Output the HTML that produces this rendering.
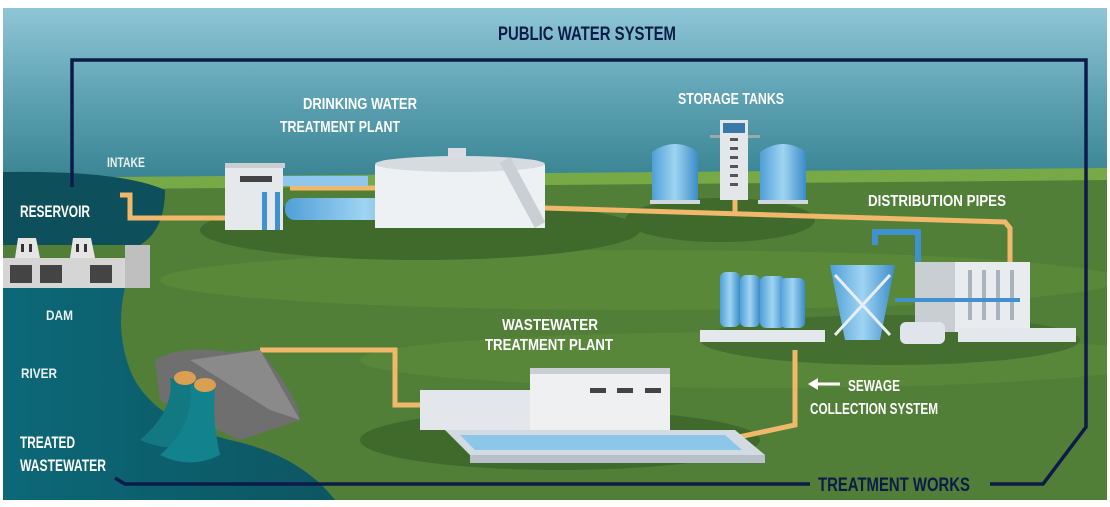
<!DOCTYPE html>
<html><head><meta charset="utf-8"><style>
html,body{margin:0;padding:0;background:#fff;width:1110px;height:507px;overflow:hidden}
svg{display:block}
text{font-family:"Liberation Sans",sans-serif;font-weight:bold}
</style></head><body>
<svg width="1110" height="507" viewBox="0 0 1110 507" xmlns="http://www.w3.org/2000/svg">
<defs>
<linearGradient id="sky" x1="0" y1="0" x2="0" y2="1">
<stop offset="0" stop-color="#8fc6d6"/><stop offset="0.5" stop-color="#5fa3b4"/><stop offset="1" stop-color="#3a8593"/></linearGradient>
<linearGradient id="water" x1="0" y1="0" x2="1" y2="0">
<stop offset="0" stop-color="#0c6877"/><stop offset="1" stop-color="#0d5662"/></linearGradient>
<linearGradient id="tank" x1="0" y1="0" x2="1" y2="0">
<stop offset="0" stop-color="#4f9fd8"/><stop offset="0.5" stop-color="#9fd4f2"/><stop offset="1" stop-color="#3c8cc8"/></linearGradient>
<clipPath id="c"><rect x="3" y="8" width="1104" height="492"/></clipPath>
</defs>
<g clip-path="url(#c)">
<rect x="3" y="8" width="1104" height="492" fill="#4e7d36"/>
<rect x="3" y="8" width="1104" height="170" fill="url(#sky)"/>
<path d="M3 178 L1107 168 L1107 190 L3 196Z" fill="#78a947"/>
<path d="M3 190 L1107 180 L1107 500 L3 500Z" fill="#527f38"/>
<ellipse cx="640" cy="280" rx="480" ry="30" fill="#598839"/>
<ellipse cx="760" cy="360" rx="400" ry="28" fill="#58873a"/>
<ellipse cx="420" cy="230" rx="220" ry="30" fill="#3f6a2c"/>
<ellipse cx="720" cy="220" rx="95" ry="22" fill="#3f6a2c"/>
<ellipse cx="560" cy="440" rx="200" ry="30" fill="#3f6a2c"/>
<ellipse cx="890" cy="340" rx="190" ry="25" fill="#446f30"/>
<!-- reservoir -->
<path d="M3 172 Q120 170 165 190 Q165 230 140 245 L3 245Z" fill="#0d4f5a"/>
<!-- river -->
<path d="M3 288 L125 288 Q115 330 130 370 Q150 420 230 440 Q300 455 335 500 L3 500Z" fill="url(#water)"/>
<!-- dam -->
<rect x="3" y="258" width="145" height="30" fill="#d5d5d5"/>
<rect x="125" y="245" width="25" height="43" fill="#bfbfbf"/>
<rect x="10" y="265" width="22" height="18" fill="#444"/><rect x="40" y="265" width="22" height="18" fill="#444"/><rect x="90" y="265" width="22" height="18" fill="#444"/>
<path d="M15 258 L18 238 L36 238 L40 258Z" fill="#e5e5e5"/><path d="M70 258 L73 238 L91 238 L95 258Z" fill="#e5e5e5"/>
<rect x="21" y="244" width="3" height="8" fill="#333"/><rect x="29" y="244" width="3" height="8" fill="#333"/>
<rect x="76" y="244" width="3" height="8" fill="#333"/><rect x="84" y="244" width="3" height="8" fill="#333"/>
<!-- pipes -->
<g fill="none" stroke="#f0b86a" stroke-width="5">
<path d="M120 195 L130 195 L130 218 L230 218"/>
<path d="M545 208 L1005 222 L1010 228 L1010 262"/>
<path d="M735 200 L735 212"/>
<path d="M260 350 L395 350 L395 405 L420 405"/>
<path d="M795 350 L795 425 L725 440"/>
<path d="M290 188 L385 188 L385 170 L390 165"/>
</g>
<!-- drinking plant -->
<rect x="225" y="165" width="58" height="65" fill="#e6e9ec"/><rect x="225" y="163" width="60" height="5" fill="#c9ced3"/>
<rect x="240" y="176" width="32" height="6" fill="#444"/>
<rect x="283" y="176" width="85" height="10" fill="#8fc8ec"/>
<rect x="285" y="198" width="160" height="22" rx="10" fill="url(#tank)"/>
<rect x="262" y="192" width="5" height="38" fill="#3f92cf"/><rect x="275" y="192" width="5" height="38" fill="#3f92cf"/>
<path d="M375 165 Q460 150 545 165 L545 228 L375 228Z" fill="#eef1f4"/>
<ellipse cx="460" cy="164" rx="85" ry="8" fill="#d6dbe0"/>
<path d="M505 160 L540 225" stroke="#c9cfd5" stroke-width="12"/>
<rect x="448" y="148" width="18" height="10" fill="#d9dde1"/>
<!-- storage tanks -->
<path d="M652 152 Q675 136 698 152 L698 202 L652 202Z" fill="url(#tank)"/>
<path d="M760 152 Q783 136 806 152 L806 202 L760 202Z" fill="url(#tank)"/>
<rect x="650" y="200" width="50" height="4" fill="#d0d8de"/><rect x="758" y="200" width="50" height="4" fill="#d0d8de"/>
<rect x="710" y="135" width="50" height="3" fill="#9aa"/>
<rect x="720" y="120" width="28" height="80" fill="#e4e7ea"/><rect x="723" y="123" width="22" height="10" fill="#3a78a8"/>
<g fill="#555"><rect x="730" y="138" width="8" height="3"/><rect x="730" y="147" width="8" height="3"/><rect x="730" y="156" width="8" height="3"/><rect x="730" y="165" width="8" height="3"/><rect x="730" y="174" width="8" height="3"/><rect x="730" y="183" width="8" height="3"/></g>
<!-- wastewater upper right facility -->
<rect x="700" y="330" width="125" height="12" fill="#e4e8ec"/>
<rect x="720" y="272" width="20" height="55" rx="6" fill="url(#tank)"/>
<rect x="740" y="275" width="20" height="52" rx="6" fill="url(#tank)"/>
<rect x="760" y="276" width="25" height="52" rx="6" fill="url(#tank)"/>
<rect x="780" y="278" width="25" height="50" rx="6" fill="url(#tank)"/>
<path d="M830 265 L895 265 L880 340 L845 340Z" fill="url(#tank)"/>
<path d="M835 275 L890 335 M890 275 L835 335" stroke="#e8eef3" stroke-width="3"/>
<path d="M875 245 L875 232 L918 232 L918 320" fill="none" stroke="#3f92cf" stroke-width="6"/>
<rect x="915" y="262" width="115" height="70" fill="#e9ecef"/>
<rect x="915" y="262" width="40" height="70" fill="#c9ced3"/>
<g fill="#aab3bb"><rect x="968" y="270" width="4" height="50"/><rect x="982" y="270" width="4" height="50"/><rect x="996" y="270" width="4" height="50"/><rect x="1010" y="270" width="4" height="50"/></g>
<rect x="900" y="322" width="45" height="22" rx="6" fill="#dfe5ea"/>
<rect x="958" y="328" width="118" height="14" fill="#e4e8ec"/>
<path d="M895 300 L1020 300" stroke="#3f92cf" stroke-width="4"/>
<!-- wastewater plant bottom -->
<rect x="420" y="390" width="115" height="40" fill="#e3e6ea"/>
<rect x="530" y="370" width="140" height="65" fill="#eef0f2"/><rect x="530" y="368" width="140" height="6" fill="#c9ced3"/>
<rect x="590" y="388" width="16" height="5" fill="#444"/><rect x="617" y="388" width="16" height="5" fill="#444"/><rect x="645" y="388" width="16" height="5" fill="#444"/>
<path d="M445 430 L735 430 L765 455 L470 455Z" fill="#d3dbe2"/>
<path d="M460 435 L725 435 L742 450 L475 450Z" fill="#8cc6e8"/>
<rect x="470" y="455" width="295" height="8" fill="#b7c0c8"/>
<!-- rock / outfall -->
<path d="M155 360 Q180 345 230 352 L260 350 Q300 400 300 420 L240 440 Q195 420 160 400Z" fill="#6f6f6f"/>
<path d="M190 360 L260 350 L300 420 L270 410Z" fill="#8a8a8a"/>
<path d="M170 378 Q175 410 140 440 Q175 455 200 440 Q195 410 205 385Z" fill="#127882"/>
<path d="M190 385 Q195 425 160 455 Q190 470 220 455 Q212 420 215 388Z" fill="#12828c"/>
<ellipse cx="185" cy="378" rx="11" ry="7" fill="#d8a050"/><ellipse cx="205" cy="385" rx="11" ry="7" fill="#d8a050"/>
</g>
<!-- navy frame -->
<g fill="none" stroke="#0d1b48" stroke-width="3.5">
<path d="M72 187 L72 60 L1086 60 L1086 427 L1043 484 L990 484"/>
<path d="M115 478 L125 484 L810 484"/>
</g>
<!-- sewage arrow -->
<path d="M840 384 L815 384" stroke="#fff" stroke-width="3"/><path d="M808 384 L818 378 L818 390Z" fill="#fff"/>
<!-- labels -->
<g fill="#0d1b48"><text x="498" y="40" font-size="19" textLength="178" lengthAdjust="spacingAndGlyphs">PUBLIC WATER SYSTEM</text>
<text x="818" y="491" font-size="19" textLength="152" lengthAdjust="spacingAndGlyphs">TREATMENT WORKS</text></g>
<g fill="#fff">
<text x="303" y="109" font-size="16" textLength="114" lengthAdjust="spacingAndGlyphs">DRINKING WATER</text>
<text x="280" y="132" font-size="16" textLength="120" lengthAdjust="spacingAndGlyphs">TREATMENT  PLANT</text>
<text x="678" y="104" font-size="16" textLength="106" lengthAdjust="spacingAndGlyphs">STORAGE TANKS</text>
<text x="868" y="206" font-size="16" textLength="138" lengthAdjust="spacingAndGlyphs">DISTRIBUTION PIPES</text>
<text x="20" y="217" font-size="17" textLength="70" lengthAdjust="spacingAndGlyphs">RESERVOIR</text>
<text x="502" y="330" font-size="16" textLength="96" lengthAdjust="spacingAndGlyphs">WASTEWATER</text>
<text x="485" y="350" font-size="16" textLength="128" lengthAdjust="spacingAndGlyphs">TREATMENT  PLANT</text>
<text x="848" y="391" font-size="16" textLength="52" lengthAdjust="spacingAndGlyphs">SEWAGE</text>
<text x="810" y="414" font-size="16" textLength="128" lengthAdjust="spacingAndGlyphs">COLLECTION SYSTEM</text>
<text x="20" y="448" font-size="17" textLength="55" lengthAdjust="spacingAndGlyphs">TREATED</text>
<text x="20" y="471" font-size="17" textLength="86" lengthAdjust="spacingAndGlyphs">WASTEWATER</text>
</g>
<g fill="#e8f0f0">
<text x="107" y="167" font-size="14" font-weight="normal" textLength="38" lengthAdjust="spacingAndGlyphs">INTAKE</text>
<text x="46" y="320" font-size="14" font-weight="normal" textLength="27" lengthAdjust="spacingAndGlyphs">DAM</text>
<text x="21" y="378" font-size="14" font-weight="normal" textLength="36" lengthAdjust="spacingAndGlyphs">RIVER</text>
</g>
</svg>
</body></html>
